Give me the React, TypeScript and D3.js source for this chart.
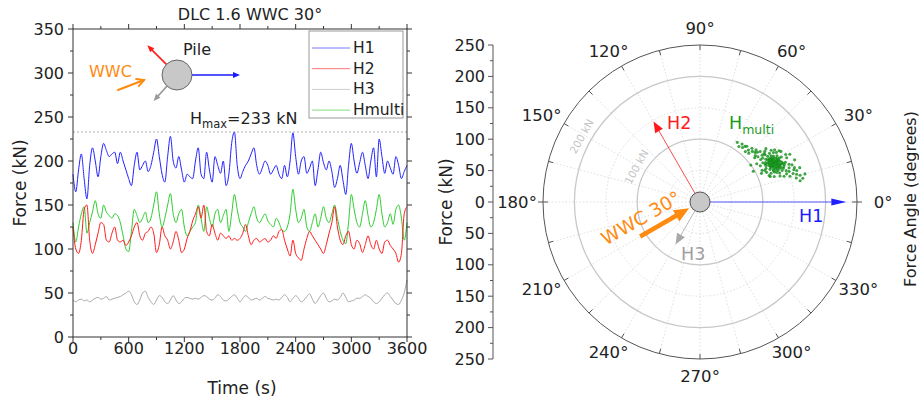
import React from 'react';
import * as d3 from 'd3';

// ---- time series (kN), one sample every 30 s from 0 to 3600 s ----
const timeStep = 30;
const h1 = [
  185, 165, 190, 208, 180, 157, 195, 215, 200, 182, 205, 220, 212, 205, 208, 210, 197, 210, 200, 190,
  180, 172, 195, 210, 190, 195, 200, 188, 195, 210, 225, 205, 185, 176, 205, 228, 200, 192, 205, 190,
  176, 185, 182, 180, 200, 215, 185, 180, 210, 190, 176, 205, 195, 186, 200, 172, 185, 220, 233, 195,
  180, 188, 195, 200, 208, 215, 195, 185, 192, 200, 195, 185, 190, 195, 185, 180, 195, 182, 200, 232,
  205, 185, 200, 205, 186, 192, 200, 172, 190, 210, 198, 190, 200, 188, 170, 180, 195, 178, 162, 195,
  220, 200, 186, 198, 210, 195, 180, 200, 215, 182, 225, 205, 186, 200, 192, 185, 205, 195, 180, 188,
  195,
];
const h2 = [
  125, 100, 95, 110, 145, 150, 110, 95, 105, 118, 130, 128, 110, 108, 118, 125, 110, 108, 110, 104,
  108, 115, 125, 130, 115, 110, 118, 120, 125, 118, 96, 105, 125, 115, 110, 100, 108, 120, 110, 96,
  100, 112, 120, 132, 140, 148, 135, 150, 120, 115, 128, 118, 110, 118, 115, 112, 115, 110, 112, 110,
  112, 118, 128, 115, 105, 110, 112, 108, 110, 112, 108, 110, 115, 112, 120, 122, 110, 100, 92, 110,
  95, 90, 87, 100, 112, 120, 115, 110, 105, 100, 95, 105, 118, 130, 148, 125, 110, 105, 115, 120,
  105, 100, 110, 106, 96, 105, 115, 105, 100, 110, 100, 95, 108, 110, 104, 100, 95, 85, 95, 140,
  148,
];
const h3 = [
  42, 40, 42, 43, 41, 42, 40, 42, 44, 45, 43, 44, 46, 42, 43, 44, 45, 46, 48, 50,
  52, 48, 40, 37, 42, 50, 52, 45, 40, 37, 42, 47, 45, 40, 38, 42, 47, 42, 38, 40,
  44, 45, 44, 43, 44, 43, 45, 47, 46, 43, 42, 44, 48, 46, 42, 41, 43, 46, 48, 44,
  40, 44, 47, 45, 42, 43, 44, 42, 44, 46, 44, 43, 42, 43, 42, 45, 48, 45, 40, 44,
  47, 44, 40, 42, 46, 49, 43, 38, 42, 47, 50, 44, 40, 41, 43, 42, 45, 50, 45, 40,
  41, 42, 44, 44, 46, 48, 46, 44, 40, 38, 40, 44, 48, 50, 46, 42, 38, 37, 42, 50,
  65,
];
const hMulti = [
  130, 108, 125, 140, 148, 118, 130, 142, 155, 140, 135, 150, 142, 138, 135, 140, 138, 130, 115, 100,
  97, 120, 145, 138, 130, 135, 142, 130, 135, 150, 165, 140, 125, 135, 150, 163, 140, 130, 140, 145,
  125, 115, 120, 125, 130, 150, 135, 120, 148, 135, 125, 140, 145, 130, 138, 145, 120, 140, 162, 145,
  130, 125, 120, 130, 140, 148, 135, 130, 135, 140, 132, 128, 125, 135, 130, 122, 120, 125, 140, 168,
  145, 130, 135, 145, 125, 120, 130, 140, 125, 135, 148, 135, 130, 140, 150, 135, 120, 110, 106, 130,
  162, 145, 130, 125, 140, 155, 138, 125, 130, 145, 162, 140, 125, 130, 140, 128, 145, 150, 135, 110,
  130,
];

const timeTicks = [0, 600, 1200, 1800, 2400, 3000, 3600];
const forceTicks = [0, 50, 100, 150, 200, 250, 300, 350];
const hMax = 233;

const legendNames = ['H1', 'H2', 'H3', 'Hmulti'];
const seriesColors = ['#2020ff', '#ff1a1a', '#a8a8a8', '#2ecc2e'];

// ---- polar view ----
const arrowNames = ['H1', 'H2', 'H3'];
const arrowAngles = [0, 120, 240]; // degrees
const arrowForces = [233, 148, 78]; // kN
const wwcAngle = 30;
const ringForces = [50, 100, 150, 200, 250];
const labelledRings = [100, 200];
const angleTicks = d3.range(0, 360, 30);
const polarAxisTicks = [-250, -200, -150, -100, -50, 0, 50, 100, 150, 200, 250];

// resultant load samples: [angle (deg), force (kN)]
const hMultiCloud: [number, number][] = [
  [41, 121], [38, 131], [34, 141], [32, 152], [39, 112], [35, 122], [32, 133], [29, 144], [27, 155],
  [34, 109], [30, 120], [28, 131], [25, 143], [23, 154], [27, 111], [25, 123], [22, 134], [20, 146],
  [19, 158], [20, 119], [18, 134], [16, 149], [15, 165], [58, 112], [51, 114], [46, 119], [54, 114],
  [47, 113], [19, 168], [15, 173], [12, 163], [24, 165], [28, 162], [30, 98], [36, 100],
  [33, 125], [31, 128], [29, 126], [27, 128], [25, 130], [23, 132], [33, 135], [31, 137], [29, 134],
  [27, 136], [25, 138], [23, 140], [32, 130], [30, 131], [28, 133], [26, 134], [24, 136], [30, 140],
  [28, 142], [26, 145], [24, 147], [31, 122], [29, 120], [27, 118], [34, 130], [35, 135], [36, 128],
  [22, 128], [21, 140], [20, 135], [26, 125], [28, 124], [30, 127], [32, 138], [33, 145], [29, 148],
  [27, 140], [25, 150], [23, 145], [31, 143], [35, 118], [37, 124], [28, 137], [26, 139], [24, 128],
  [22, 122], [30, 135], [32, 118], [21, 152], [19, 150], [18, 145], [17, 155], [16, 160], [14, 158],
  [13, 168], [18, 162], [20, 160], [22, 158], [40, 115], [42, 118], [44, 116], [43, 122], [45, 110],
  [48, 108], [50, 116], [52, 110], [55, 108], [38, 117], [40, 125], [37, 128], [26, 115], [24, 116],
  [21, 118], [35, 145], [33, 150], [29, 156], [36, 140], [39, 135], [17, 140], [19, 125], [25, 108],
  [31, 112], [29, 130], [27, 132], [25, 134], [28, 128], [26, 137], [30, 133], [24, 139], [29, 138],
  [31, 131], [26, 128], [23, 137], [27, 143], [28, 139], [25, 141], [22, 143], [30, 124], [32, 127],
  [26, 131], [24, 133], [28, 135], [27, 126], [29, 141], [31, 134], [23, 127], [25, 146], [21, 131],
];

const FONT = 'DejaVu Sans, Verdana, sans-serif';
const rad = (deg: number) => (deg * Math.PI) / 180;

function head(tx: number, ty: number, ang: number, len: number, half: number) {
  // ang: screen direction of the arrow (radians, y down)
  const bx = tx - len * Math.cos(ang);
  const by = ty - len * Math.sin(ang);
  const px = -Math.sin(ang) * half;
  const py = Math.cos(ang) * half;
  return `${tx},${ty} ${bx + px},${by + py} ${bx - px},${by - py}`;
}

export default function App() {
  const W = 919;
  const H = 405;

  // ---------- time history ----------
  const x = d3.scaleLinear().domain([0, 3600]).range([73, 407]);
  const y = d3.scaleLinear().domain([0, 350]).range([337, 29]);
  const line = d3
    .line<number>()
    .x((_, i) => x(i * timeStep))
    .y((d) => y(d))
    .curve(d3.curveMonotoneX);
  const series = [h1, h2, h3, hMulti];
  const drawOrder = [2, 3, 1, 0];
  const minorTime = d3.range(300, 3600, 600);
  const minorForce = d3.range(25, 350, 50);

  // ---------- polar ----------
  const cx = 700;
  const cy = 202;
  const r = d3.scaleLinear().domain([0, 250]).range([0, 157]);
  const pol = (deg: number, f: number) => [cx + r(f) * Math.cos(rad(deg)), cy - r(f) * Math.sin(rad(deg))];
  const yp = d3.scaleLinear().domain([-250, 250]).range([359, 45]);
  const axX = 493;
  const pileR = 10;
  const spokes = d3.range(0, 360, 15);

  // icon in time-history panel
  const ic = { x: 177, y: 75, r: 15 };

  const wwcTail = pol(wwcAngle + 180, 110);
  const wwcTip = pol(wwcAngle + 180, 20);
  const wwcDir = Math.atan2(wwcTip[1] - wwcTail[1], wwcTip[0] - wwcTail[0]);

  return (
    <svg
      width={W}
      height={H}
      style={{ position: 'absolute', left: 0, top: 0, background: '#fff' }}
      fontFamily={FONT}
    >
      <rect width={W} height={H} fill="#fff" />

      {/* ===== time history panel ===== */}
      <text x={250} y={20} fontSize={16} textAnchor="middle" fill="#222">
        DLC 1.6 WWC 30°
      </text>

      <g>
        {drawOrder.map((k) => (
          <path key={k} d={line(series[k]) || ''} fill="none" stroke={seriesColors[k]} strokeWidth={1} />
        ))}
      </g>

      <line x1={x(0)} x2={x(3600)} y1={y(hMax)} y2={y(hMax)} stroke="#999" strokeWidth={0.8} strokeDasharray="2,2" />
      <text x={190} y={124} fontSize={16} fill="#222">
        H<tspan fontSize={11.5} dy={4}>max</tspan>
        <tspan dy={-4}>={hMax} kN</tspan>
      </text>

      {/* frame */}
      <rect x={x(0)} y={y(350)} width={x(3600) - x(0)} height={y(0) - y(350)} fill="none" stroke="#333" strokeWidth={1} />

      {/* axes ticks */}
      {timeTicks.map((t) => (
        <g key={'tt' + t}>
          <line x1={x(t)} x2={x(t)} y1={y(0)} y2={y(0) + 5} stroke="#333" />
          <line x1={x(t)} x2={x(t)} y1={y(350)} y2={y(350) - 5} stroke="#333" />
          <text x={x(t)} y={354} fontSize={16} textAnchor="middle" fill="#222">
            {t}
          </text>
        </g>
      ))}
      {minorTime.map((t) => (
        <g key={'mt' + t}>
          <line x1={x(t)} x2={x(t)} y1={y(0)} y2={y(0) + 3} stroke="#333" />
          <line x1={x(t)} x2={x(t)} y1={y(350)} y2={y(350) - 3} stroke="#333" />
        </g>
      ))}
      {forceTicks.map((f) => (
        <g key={'ft' + f}>
          <line x1={x(0) - 5} x2={x(0)} y1={y(f)} y2={y(f)} stroke="#333" />
          <line x1={x(3600)} x2={x(3600) + 5} y1={y(f)} y2={y(f)} stroke="#333" />
          <text x={64} y={y(f)} fontSize={16} textAnchor="end" dominantBaseline="central" fill="#222">
            {f}
          </text>
        </g>
      ))}
      {minorForce.map((f) => (
        <g key={'mf' + f}>
          <line x1={x(0) - 3} x2={x(0)} y1={y(f)} y2={y(f)} stroke="#333" />
          <line x1={x(3600)} x2={x(3600) + 3} y1={y(f)} y2={y(f)} stroke="#333" />
        </g>
      ))}
      <text x={242} y={394} fontSize={17} textAnchor="middle" fill="#222">
        Time (s)
      </text>
      <text transform="translate(20,183) rotate(-90)" fontSize={17} textAnchor="middle" dominantBaseline="central" fill="#222">
        Force (kN)
      </text>

      {/* legend */}
      <rect x={309} y={31} width={94} height={87} fill="#fff" stroke="#999" strokeWidth={1} />
      {legendNames.map((n, i) => (
        <g key={n}>
          <line x1={312} x2={350} y1={48 + i * 20.7} y2={48 + i * 20.7} stroke={seriesColors[i]} strokeOpacity={0.6} strokeWidth={1} />
          <text x={353} y={48 + i * 20.7} fontSize={15.5} dominantBaseline="central" fill="#222">
            {n}
          </text>
        </g>
      ))}

      {/* pile sketch */}
      <text x={183} y={55} fontSize={16} fill="#222">
        Pile
      </text>
      {(() => {
        const arrows = [
          { a: 0, len: 63, c: '#1a1aff' },
          { a: 135, len: 42, c: '#ff1a1a' },
          { a: 228, len: 35, c: '#999' },
        ];
        return arrows.map((ar, i) => {
          const ex = ic.x + ar.len * Math.cos(rad(ar.a));
          const ey = ic.y - ar.len * Math.sin(rad(ar.a));
          const sx = ic.x + ic.r * Math.cos(rad(ar.a));
          const sy = ic.y - ic.r * Math.sin(rad(ar.a));
          const dir = Math.atan2(ey - sy, ex - sx);
          return (
            <g key={'ia' + i}>
              <line x1={sx} y1={sy} x2={ex - 4 * Math.cos(dir)} y2={ey - 4 * Math.sin(dir)} stroke={ar.c} strokeWidth={1.6} />
              <polygon points={head(ex, ey, dir, 7, 3)} fill={ar.c} />
            </g>
          );
        });
      })()}
      <circle cx={ic.x} cy={ic.y} r={ic.r} fill="#c8c8c8" stroke="#666" strokeWidth={1} />
      <text x={89} y={77} fontSize={16} fill="#ff8a10">
        WWC
      </text>
      {(() => {
        const sx = 118, sy = 90, ex = 144, ey = 80;
        const dir = Math.atan2(ey - sy, ex - sx);
        const p1 = [ex - 8 * Math.cos(dir - 0.5), ey - 8 * Math.sin(dir - 0.5)];
        const p2 = [ex - 8 * Math.cos(dir + 0.5), ey - 8 * Math.sin(dir + 0.5)];
        return (
          <g stroke="#ff8a10" strokeWidth={2} fill="none" strokeLinecap="round">
            <line x1={sx} y1={sy} x2={ex} y2={ey} />
            <polyline points={`${p1[0]},${p1[1]} ${ex},${ey} ${p2[0]},${p2[1]}`} />
          </g>
        );
      })()}

      {/* ===== polar panel ===== */}
      {spokes.map((a) => {
        const [ex, ey] = pol(a, 250);
        return <line key={'sp' + a} x1={cx} y1={cy} x2={ex} y2={ey} stroke="#d6d6d6" strokeWidth={0.8} strokeDasharray="1.5,2" />;
      })}
      {ringForces.map((f) =>
        f === 250 ? null : labelledRings.includes(f) ? (
          <circle key={'rg' + f} cx={cx} cy={cy} r={r(f)} fill="none" stroke="#c8c8c8" strokeWidth={1.3} />
        ) : (
          <circle key={'rg' + f} cx={cx} cy={cy} r={r(f)} fill="none" stroke="#d6d6d6" strokeWidth={0.8} strokeDasharray="1.5,2" />
        )
      )}
      <circle cx={cx} cy={cy} r={r(250)} fill="none" stroke="#555" strokeWidth={1} />
      {spokes.map((a) => {
        const [x1, y1] = pol(a, 250);
        const x2 = cx + (r(250) - 5) * Math.cos(rad(a));
        const y2 = cy - (r(250) - 5) * Math.sin(rad(a));
        return <line key={'tk' + a} x1={x1} y1={y1} x2={x2} y2={y2} stroke="#555" strokeWidth={1} />;
      })}
      {[0, 180].map((a) => {
        const [x1, y1] = pol(a, 250);
        return <line key={'otk' + a} x1={x1} y1={y1} x2={x1 + (a === 0 ? 5 : -5)} y2={y1} stroke="#555" strokeWidth={1} />;
      })}
      {angleTicks.map((a) => (
        <text
          key={'al' + a}
          x={cx + 183 * Math.cos(rad(a))}
          y={cy - 174 * Math.sin(rad(a))}
          fontSize={16.5}
          textAnchor="middle"
          dominantBaseline="central"
          fill="#222"
        >
          {a}°
        </text>
      ))}
      {labelledRings.map((f) => {
        const d = r(f) + 10;
        const px = cx + d * Math.cos(rad(151));
        const py = cy - d * Math.sin(rad(151));
        return (
          <text
            key={'rl' + f}
            transform={`translate(${px},${py}) rotate(-61)`}
            fontSize={10.5}
            textAnchor="middle"
            dominantBaseline="central"
            fill="#c4c4c4"
          >
            {f} kN
          </text>
        );
      })}

      {/* resultant cloud */}
      {hMultiCloud.map(([a, f], i) => {
        const [px, py] = pol(a, f);
        return <circle key={'cl' + i} cx={px} cy={py} r={1.55} fill="#128f18" fillOpacity={0.8} />;
      })}

      {/* load arrows */}
      {arrowAngles.map((a, i) => {
        const [sx, sy] = pol(a, 0);
        const [ex, ey] = pol(a, arrowForces[i]);
        const dir = Math.atan2(ey - sy, ex - sx);
        const hl = i === 0 ? 15 : 11;
        const hh = i === 0 ? 3.6 : 4.5;
        const col = seriesColors[i];
        return (
          <g key={'pa' + i}>
            <line x1={sx} y1={sy} x2={ex - hl * Math.cos(dir)} y2={ey - hl * Math.sin(dir)} stroke={col} strokeOpacity={0.75} strokeWidth={1} />
            <polygon points={head(ex, ey, dir, hl, hh)} fill={col} />
          </g>
        );
      })}

      {/* wind/wave/current direction */}
      <line
        x1={wwcTail[0]}
        y1={wwcTail[1]}
        x2={wwcTip[0] - 12 * Math.cos(wwcDir)}
        y2={wwcTip[1] - 12 * Math.sin(wwcDir)}
        stroke="#ff8a10"
        strokeWidth={4.5}
      />
      <polygon points={head(wwcTip[0], wwcTip[1], wwcDir, 15, 6.5)} fill="#ff8a10" />
      <text
        transform={`translate(641,218) rotate(-${wwcAngle})`}
        fontSize={18.5}
        textAnchor="middle"
        dominantBaseline="central"
        fill="#ff8a10"
      >
        WWC {wwcAngle}°
      </text>

      <circle cx={cx} cy={cy} r={pileR} fill="#c8c8c8" stroke="#555" strokeWidth={1} />

      <text x={799} y={222} fontSize={17.5} fill="#1a1aff">
        {arrowNames[0]}
      </text>
      <text x={667} y={129} fontSize={17.5} fill="#ff1a1a">
        {arrowNames[1]}
      </text>
      <text x={681} y={260} fontSize={17.5} fill="#a0a0a0">
        {arrowNames[2]}
      </text>
      <text x={729} y={129} fontSize={17.5} fill="#1a9a1a">
        H<tspan fontSize={12.5} dy={5}>multi</tspan>
      </text>

      {/* polar magnitude axis */}
      <line x1={axX} x2={axX} y1={yp(250)} y2={yp(-250)} stroke="#555" strokeWidth={1} />
      {polarAxisTicks.map((v) => (
        <g key={'pt' + v}>
          <line x1={axX - 5} x2={axX} y1={yp(v)} y2={yp(v)} stroke="#555" />
          <text x={485} y={yp(v)} fontSize={16} textAnchor="end" dominantBaseline="central" fill="#222">
            {Math.abs(v)}
          </text>
        </g>
      ))}
      {d3.range(-225, 250, 50).map((v) => (
        <line key={'pm' + v} x1={axX - 3} x2={axX} y1={yp(v)} y2={yp(v)} stroke="#555" />
      ))}
      <text transform="translate(446,202) rotate(-90)" fontSize={17} textAnchor="middle" dominantBaseline="central" fill="#222">
        Force (kN)
      </text>
      <text transform="translate(910,199) rotate(-90)" fontSize={16} textAnchor="middle" dominantBaseline="central" fill="#222">
        Force Angle (degrees)
      </text>
    </svg>
  );
}
